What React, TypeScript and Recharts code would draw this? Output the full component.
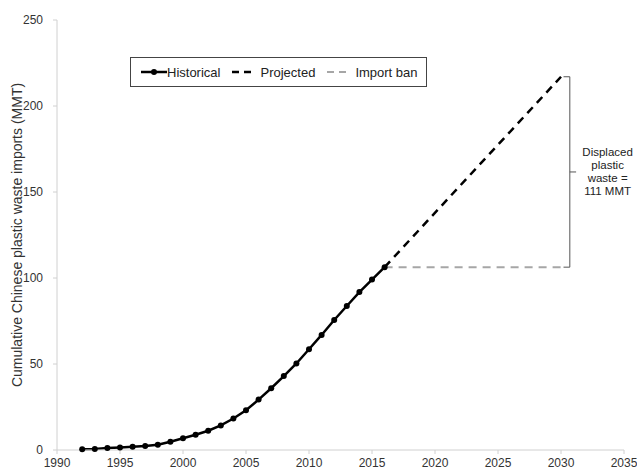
import { LineChart, Line, XAxis, YAxis, ReferenceLine, ReferenceDot, Legend } from 'recharts'

// historical cumulative imports, 1992-2016
const histYears = [1992, 1993, 1994, 1995, 1996, 1997, 1998, 1999, 2000, 2001, 2002, 2003, 2004,
  2005, 2006, 2007, 2008, 2009, 2010, 2011, 2012, 2013, 2014, 2015, 2016]
const histValues = [0.4, 0.6, 1.2, 1.5, 1.9, 2.3, 3.1, 4.8, 6.8, 8.9, 11.2, 14.3, 18.3,
  23.1, 29.3, 35.9, 43.0, 50.3, 58.6, 66.9, 75.6, 83.7, 91.8, 99.1, 106.3]

const projYears = [2016, 2030]
const projValues = [106.3, 217]
const banValues = [106.3, 106.3]

const xTicks = [1990, 1995, 2000, 2005, 2010, 2015, 2020, 2025, 2030, 2035]
const yTicks = [0, 50, 100, 150, 200, 250]

const noteLines = ['Displaced', 'plastic', 'waste =', '111 MMT']

const historical = histYears.map((year, i) => ({ year, value: histValues[i] }))
const projected = projYears.map((year, i) => ({ year, value: projValues[i] }))
const importBan = projYears.map((year, i) => ({ year, value: banValues[i] }))

const FONT = 'Liberation Sans, Arial, sans-serif'
const AXIS_GRAY = '#d0d0d0'
const TEXT = '#333'
const BAN = '#a6a6a6'

const braceX = 2030.7
const braceTop = projValues[1]
const braceBottom = banValues[1]
const braceMid = (braceTop + braceBottom) / 2

function LegendBox() {
  const item = { display: 'flex', alignItems: 'center', marginRight: 8 }
  return (
    <div style={{
      display: 'flex', alignItems: 'center', border: '1px solid #444', padding: '4px 8px 4px 10px',
      fontFamily: FONT, fontSize: 13, color: '#222', background: '#fff', height: 20, width: 'max-content',
    }}>
      <span style={item}>
        <svg width={26} height={10}><line x1={0} y1={5} x2={26} y2={5} stroke="#000" strokeWidth={2.5} /><circle cx={13} cy={5} r={3} fill="#000" /></svg>
        <span>Historical</span>
      </span>
      <span style={{ ...item, marginLeft: 4 }}>
        <svg width={24} height={10} style={{ marginRight: 4 }}><line x1={0} y1={5} x2={24} y2={5} stroke="#000" strokeWidth={2.5} strokeDasharray="7 5" /></svg>
        <span>Projected</span>
      </span>
      <span style={{ ...item, marginLeft: 4, marginRight: 0 }}>
        <svg width={24} height={10} style={{ marginRight: 4 }}><line x1={0} y1={5} x2={24} y2={5} stroke={BAN} strokeWidth={2} strokeDasharray="7 5" /></svg>
        <span>Import ban</span>
      </span>
    </div>
  )
}

function NoteLabel({ viewBox }: any) {
  const cx = viewBox.x
  const cy = viewBox.y
  const step = 13
  const start = cy - (step * (noteLines.length - 1)) / 2
  return (
    <text x={cx} textAnchor="middle" fontFamily={FONT} fontSize={11.5} fill="#222">
      {noteLines.map((t, i) => (
        <tspan key={t} x={cx} y={start + i * step} dy="0.35em">{t}</tspan>
      ))}
    </text>
  )
}

function YLabel({ viewBox }: any) {
  const cy = viewBox.y + viewBox.height / 2
  return (
    <text x={17} y={cy} transform={`rotate(-90 17 ${cy})`} textAnchor="middle" dominantBaseline="central"
      fontFamily={FONT} fontSize={14} fill={TEXT}>
      Cumulative Chinese plastic waste imports (MMT)
    </text>
  )
}

export default function App() {
  const tick = { fontSize: 12, fill: TEXT, fontFamily: FONT }
  return (
    <div style={{ position: 'absolute', left: 0, top: 0, background: '#fff' }}>
      <LineChart width={637} height={471} margin={{ top: 20, right: 13, left: 0, bottom: 0 }}>
        <XAxis type="number" dataKey="year" domain={[1990, 2035]} ticks={xTicks} allowDataOverflow
          height={21} tick={tick} tickSize={4} tickMargin={4} stroke={AXIS_GRAY} tickLine={{ stroke: AXIS_GRAY }} />
        <YAxis type="number" dataKey="value" domain={[0, 250]} ticks={yTicks} width={57}
          tick={tick} tickSize={4} tickMargin={10} stroke={AXIS_GRAY} tickLine={{ stroke: AXIS_GRAY }}
          label={<YLabel />} />
        <Legend verticalAlign="middle" align="center" content={<LegendBox />}
          wrapperStyle={{ position: 'absolute', top: 57, left: 130, width: 'auto' }} />
        <Line data={importBan} dataKey="value" stroke={BAN} strokeWidth={2} strokeDasharray="8 6"
          dot={false} activeDot={false} isAnimationActive={false} legendType="none" />
        <Line data={projected} dataKey="value" stroke="#000" strokeWidth={2.5} strokeDasharray="8 6"
          dot={false} activeDot={false} isAnimationActive={false} legendType="none" />
        <Line data={historical} dataKey="value" stroke="#000" strokeWidth={2.5}
          dot={{ r: 3, fill: '#000', stroke: '#000', strokeWidth: 0 }} activeDot={false} isAnimationActive={false} legendType="none" />
        {/* curly brace marking displaced waste */}
        <ReferenceLine segment={[{ x: braceX, y: braceBottom }, { x: braceX, y: braceTop }]} stroke="#555" strokeWidth={1} ifOverflow="visible" />
        <ReferenceLine segment={[{ x: braceX - 0.5, y: braceTop }, { x: braceX, y: braceTop }]} stroke="#555" strokeWidth={1} ifOverflow="visible" />
        <ReferenceLine segment={[{ x: braceX - 0.5, y: braceBottom }, { x: braceX, y: braceBottom }]} stroke="#555" strokeWidth={1} ifOverflow="visible" />
        <ReferenceLine segment={[{ x: braceX, y: braceMid }, { x: braceX + 0.5, y: braceMid }]} stroke="#555" strokeWidth={1} ifOverflow="visible" />
        <ReferenceDot x={2033.7} y={braceMid} r={0} stroke="none" fill="none" ifOverflow="visible" label={<NoteLabel />} />
      </LineChart>
    </div>
  )
}
